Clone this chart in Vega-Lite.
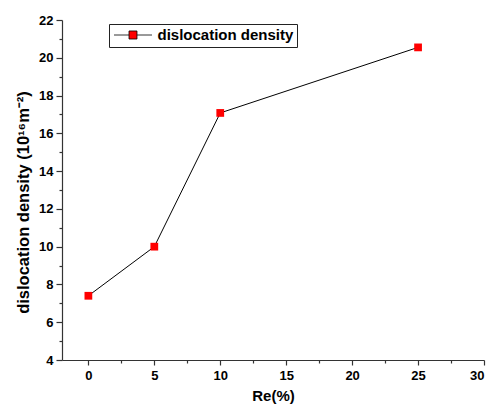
{
  "$schema": "https://vega.github.io/schema/vega-lite/v6.json",
  "width": 422,
  "height": 340,
  "autosize": {"type": "none"},
  "padding": {"left": 62, "top": 20, "right": 7, "bottom": 51},
  "background": "white",
  "config": {
    "view": {"stroke": null},
    "font": "Liberation Sans",
    "axis": {
      "domainColor": "#333333",
      "tickColor": "#333333",
      "labelColor": "black",
      "titleColor": "black",
      "labelFont": "Liberation Sans",
      "labelFontWeight": "bold",
      "labelFontSize": 13,
      "titleFont": "Liberation Sans",
      "titleFontWeight": "bold",
      "grid": false,
      "domainWidth": 1.2,
      "tickWidth": 1.2
    }
  },
  "data": {
    "values": [
      {"re": 0, "density": 7.4, "series": "dislocation density"},
      {"re": 5, "density": 10.0, "series": "dislocation density"},
      {"re": 10, "density": 17.08, "series": "dislocation density"},
      {"re": 25, "density": 20.55, "series": "dislocation density"}
    ]
  },
  "resolve": {"axis": {"x": "independent", "y": "independent"}, "scale": {"x": "shared", "y": "shared"}},
  "layer": [
    {
      "mark": {"type": "line", "color": "black", "strokeWidth": 1},
      "encoding": {
        "x": {
          "field": "re", "type": "quantitative",
          "scale": {"domain": [-2, 30], "nice": false, "zero": false},
          "axis": {"orient": "bottom", "values": [0, 5, 10, 15, 20, 25, 30], "tickSize": 5, "labelPadding": 4, "title": "Re(%)", "titleFontSize": 15, "titlePadding": 6}
        },
        "y": {
          "field": "density", "type": "quantitative",
          "scale": {"domain": [4, 22], "nice": false, "zero": false},
          "axis": {"orient": "left", "values": [4, 6, 8, 10, 12, 14, 16, 18, 20, 22], "tickSize": 6, "labelPadding": 3, "title": "dislocation density (10¹⁶m⁻²)", "titleFontSize": 16.5, "titlePadding": 7, "titleY": 182}
        }
      }
    },
    {
      "mark": {"type": "point", "shape": "square", "filled": true, "size": 60, "opacity": 1},
      "encoding": {
        "x": {
          "field": "re", "type": "quantitative",
          "axis": {"orient": "bottom", "values": [2.5, 7.5, 12.5, 17.5, 22.5, 27.5], "tickSize": 3, "labels": false, "domain": false, "title": null}
        },
        "y": {
          "field": "density", "type": "quantitative",
          "axis": {"orient": "left", "values": [5, 7, 9, 11, 13, 15, 17, 19, 21], "tickSize": 3, "labels": false, "domain": false, "title": null}
        },
        "color": {
          "field": "series", "type": "nominal",
          "scale": {"range": ["#ff0000"]},
          "legend": {
            "title": null,
            "orient": "none",
            "legendX": 47,
            "legendY": 4,
            "padding": 3.5,
            "strokeColor": "#222222",
            "symbolType": "M-1,0H1.5M2.83,0H5.33M1.5,-0.67H2.83V0.67H1.5Z",
            "symbolSize": 144,
            "symbolStrokeColor": "black",
            "symbolStrokeWidth": 0.8,
            "symbolOpacity": 1,
            "labelFont": "Liberation Sans",
            "labelFontWeight": "bold",
            "labelFontSize": 15,
            "labelColor": "black",
            "labelOffset": 30
          }
        }
      }
    }
  ]
}
